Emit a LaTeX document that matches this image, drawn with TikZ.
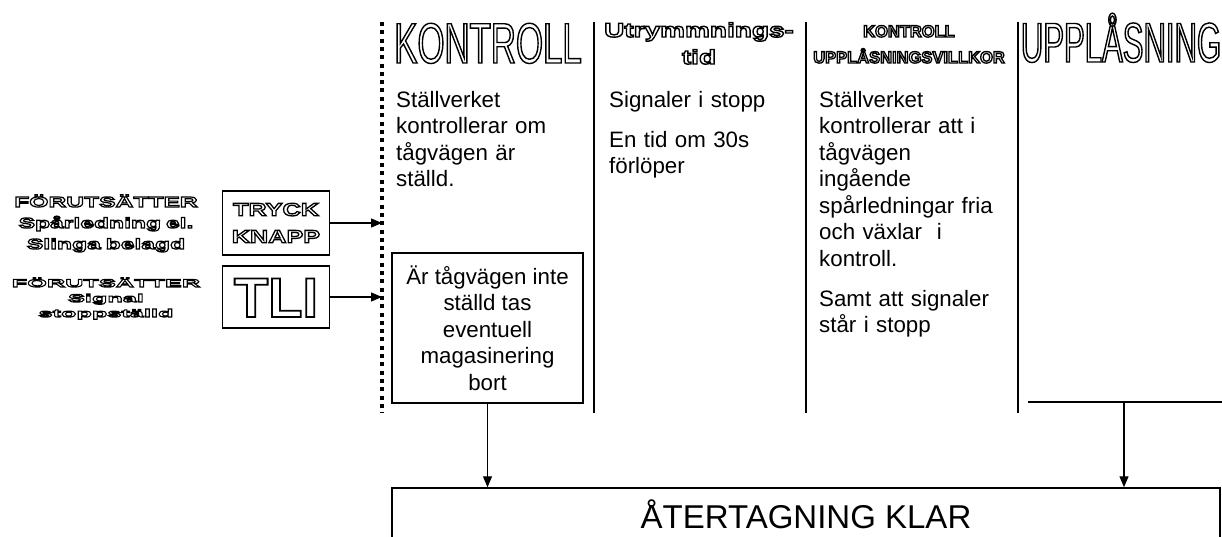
\documentclass[tikz,border=0pt]{standalone}
\usepackage{fontspec}
\setmainfont{Liberation Sans}
\newfontfamily\narrowfont[FakeStretch=0.61]{Liberation Sans}
\newfontfamily\slimfont[FakeStretch=0.555]{Liberation Sans}
\newfontfamily\widefont[FakeStretch=1.4]{Liberation Sans}
\newfontfamily\widerfont[FakeStretch=1.7]{Liberation Sans}
\newfontfamily\widestfont[FakeStretch=2.3]{Liberation Sans}
\usetikzlibrary{arrows.meta}

% hollow lettering: glyphs stroked, not filled
\newcommand{\outl}[2][1]{\special{pdf:literal 1 Tr #1 w}#2\special{pdf:literal 0 Tr}}

\begin{document}
\begin{tikzpicture}[x=1pt,y=-1pt,
  sep/.style={line width=1.5pt},
  dotsep/.style={line width=4pt,dash pattern=on 4pt off 4.3pt},
  box/.style={draw,line width=1.5pt,inner sep=0pt},
  txt/.style={anchor=base west,align=left,inner sep=0pt,text width=185pt,
    font=\fontsize{22.3}{26.5}\selectfont},
  arr/.style={line width=1.3pt,-{Triangle[length=11pt,width=9pt]}}]
  \useasboundingbox (0,0) rectangle (1222,536);
  \clip (0,0) rectangle (1222,536);

  % column borders
  \coordinate (d0) at (382,22);
  \coordinate (d1) at (382,413);
  \draw[dotsep] (d0) -- (d1);
  \foreach \x in {594,806,1018}
    \draw[sep] (\x,22) -- (\x,413);

  % headings
  \node[anchor=base,inner sep=0pt,font=\narrowfont\fontsize{57}{57}\selectfont]
    (hkon) at (488,63) {\outl[1.4]{KONTROLL}};
  \node[anchor=base,inner sep=0pt,align=center,text width=200pt,
    font=\widefont\bfseries\fontsize{20}{27}\selectfont]
    (hutr) at (699,37) {\outl[1.4]{Utrymmnings-}\\\outl[1.4]{tid}};
  \node[anchor=base,inner sep=0pt,align=center,text width=205pt,
    font=\bfseries\fontsize{16.5}{26}\selectfont]
    (hkuv) at (909,37) {\outl[1.3]{KONTROLL}\\\outl[1.3]{UPPLÅSNINGSVILLKOR}};
  \node[anchor=base,inner sep=0pt,font=\slimfont\fontsize{56}{56}\selectfont]
    (hupp) at (1121,62) {\outl[1.4]{UPPLÅSNING}};

  % column texts
  \node[txt] (t1) at (396,107) {Ställverket\\kontrollerar om\\tågvägen är\\ställd.};
  \node[txt] (t2) at (609,107) {Signaler i stopp\\[13.5pt]En tid om 30s\\förlöper};
  \node[txt] (t3) at (819,107) {Ställverket\\kontrollerar att i\\tågvägen\\ingående\\spårledningar fria\\och växlar~ i\\kontroll.\\[13.5pt]Samt att signaler\\står i stopp};

  % inputs
  \node[anchor=base,inner sep=0pt,align=center,text width=210pt,
    font=\widerfont\bfseries\fontsize{14.5}{21}\selectfont]
    (pre1) at (106,207) {\outl[1.2]{FÖRUTSÄTTER}\\\outl[1.2]{Spårledning el.}\\\outl[1.2]{Slinga belagd}};
  \node[anchor=base,inner sep=0pt,align=center,text width=210pt,
    font=\widestfont\bfseries\fontsize{11}{15}\selectfont]
    (pre2) at (106,287) {\outl[1.1]{FÖRUTSÄTTER}\\\outl[1.1]{Signal}\\\outl[1.1]{stoppställd}};
  \node[box,minimum width=107pt,minimum height=64pt,align=center,
    font=\widefont\bfseries\fontsize{18}{27}\selectfont]
    (tryck) at (276,223) {\outl[1.3]{TRYCK}\\\outl[1.3]{KNAPP}};
  \node[box,minimum width=107pt,minimum height=62pt,text height=40pt,text depth=0pt,
    font=\bfseries\fontsize{56}{56}\selectfont]
    (tli) at (276,297) {\outl[1.8]{TLI}};
  \draw[arr] (tryck) -- (tryck -| d0);
  \draw[arr] (tli) -- (tli -| d0);

  % removal box
  \node[box,minimum width=191pt,minimum height=150pt,align=center,
    font=\fontsize{22.3}{26.5}\selectfont]
    (mag) at (487.5,328) {Är tågvägen inte\\ställd tas\\eventuell\\magasinering\\bort};

  % result
  \node[box,minimum width=828pt,minimum height=57pt,text height=23.6pt,text depth=0pt,
    font=\fontsize{33}{33}\selectfont]
    (klar) at (806,516.5) {ÅTERTAGNING KLAR};
  \draw[arr] (mag) -- (mag |- klar.north);
  \coordinate (ul) at (1028,402);
  \coordinate (ur) at (1222,402);
  \coordinate (uarr) at (1124,402);
  \draw[sep] (ul) -- (ur);
  \draw[arr] (uarr) -- (uarr |- klar.north);
\end{tikzpicture}
\end{document}
